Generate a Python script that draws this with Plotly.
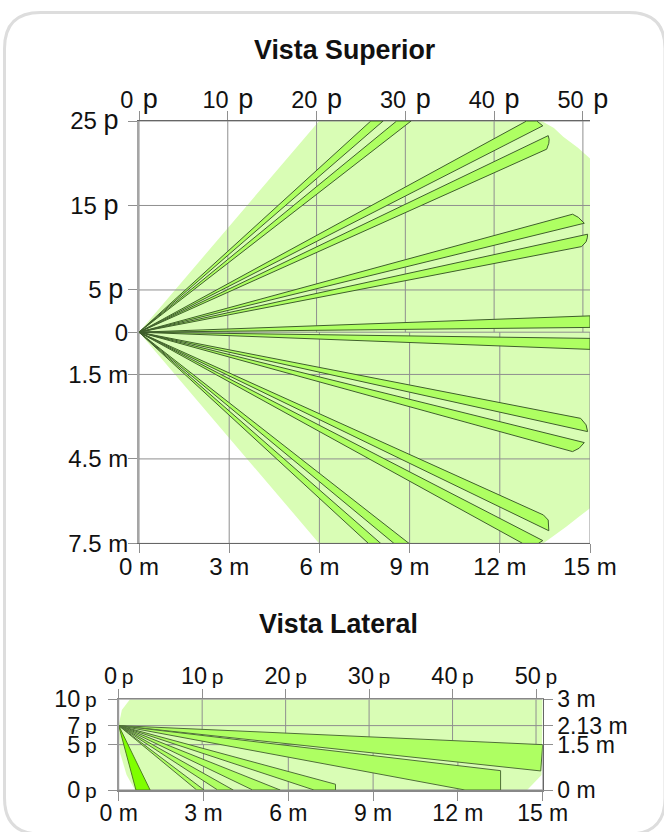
import plotly.graph_objects as go

# ---- Top view (metres; ft axis is a second scale) ----
top_ft = [0, 10, 20, 30, 40, 50]
top_m = [0, 3, 6, 9, 12, 15]
top_y_vals = [7.5, 4.5, 1.5, 0, -1.5, -4.5, -7.5]
top_y_labels = ["25", "15", "5", "0", "1.5 m", "4.5 m", "7.5 m"]
FT_RANGE_TOP = 50.8

cover_x = [0, 5.99, 13.39, 13.80, 14.11, 14.60, 15, 15, 14.62, 14.22, 13.44, 5.99, 0]
cover_y = [0, 7.5, 7.5, 7.25, 6.94, 6.55, 6.17, -6.25, -6.56, -6.90, -7.5, -7.5, 0]

beam_x = [
    [7.71, 8.12], [8.57, 9.05],
    [12.89, 13.23, 13.43], [13.61, 13.64, 13.63, 13.56],
    [14.42, 14.61, 14.81], [14.92, 14.91, 14.87, 14.72],
    [15, 15], [15, 15],
    [14.69, 14.87, 14.92], [14.81, 14.64, 14.42],
    [13.45, 13.61, 13.63], [13.43, 13.28, 12.76],
    [8.98, 8.48], [8.04, 7.63],
]
beam_y = [
    [7.5, 7.5], [7.5, 7.5],
    [7.5, 7.5, 7.33], [6.98, 6.85, 6.71, 6.50],
    [4.19, 4.08, 3.87], [3.48, 3.35, 3.21, 3.04],
    [0.58, 0.17], [-0.22, -0.61],
    [-3.06, -3.29, -3.53], [-3.92, -4.12, -4.24],
    [-6.49, -6.67, -7.05], [-7.40, -7.5, -7.5],
    [-7.5, -7.5], [-7.5, -7.5],
]

# ---- Side view ----
side_ft = [0, 10, 20, 30, 40, 50]
side_m = [0, 3, 6, 9, 12, 15]
side_y_vals = [0, 1.5, 2.13, 3]
side_left = ["0", "5", "7", "10"]
side_right = ["0 m", "1.5 m", "2.13 m", "3 m"]
FT_RANGE_SIDE = 50.8
MOUNT = 2.13

side_cover_x = [0, 0.11, 0.40, 15, 14.96, 14.45, 0.58, 0.28, 0.05, 0]
side_cover_y = [2.13, 2.65, 3, 3, 0.5, 0, 0, 0.5, 1.22, 2.13]

side_beam_x = [[15, 14.93], [13.51, 13.51, 12.25], [7.67, 7.67, 6.91],
               [5.71, 4.74], [4.05, 3.50], [3.02, 2.76]]
side_beam_y = [[1.5, 0.63], [0.64, 0, 0], [0.19, 0, 0], [0, 0], [0, 0], [0, 0]]
creep_x = [1.11, 0.61]
creep_y = [0, 0]

FONT = "Liberation Sans"
LIGHT = "#D9FDB5"
BEAM = "#AEFF62"
CREEP = "#7FFF00"
GRID = "#8f8f8f"
W, H = 664, 832

fig = go.Figure()


def gridlines(xs_upper, xs_lower, ys, split, xmax, ymin, ymax, xa, ya):
    gx, gy = [], []
    for v in xs_upper:
        gx += [v, v, None]
        gy += [split, ymax, None]
    for v in xs_lower:
        gx += [v, v, None]
        gy += [ymin, split, None]
    for v in ys:
        gx += [0, xmax, None]
        gy += [v, v, None]
    fig.add_trace(go.Scatter(x=gx, y=gy, mode="lines", xaxis=xa, yaxis=ya, showlegend=False,
                             hoverinfo="skip", line=dict(color=GRID, width=1)))


def poly(xs, ys, fill, xa, ya, line="#3f5f2c", width=1):
    fig.add_trace(go.Scatter(x=xs, y=ys, mode="lines", fill="toself", fillcolor=fill, xaxis=xa, yaxis=ya,
                             showlegend=False, hoverinfo="skip", line=dict(color=line, width=width)))


# top view
poly(cover_x, cover_y, LIGHT, "x", "y", line=LIGHT, width=0)
gridlines([v * 15 / FT_RANGE_TOP for v in top_ft], top_m, top_y_vals, 0, 15, -7.5, 7.5, "x", "y")
for bx, by in zip(beam_x, beam_y):
    poly([0] + bx + [0], [0] + by + [0], BEAM, "x", "y")
fig.add_trace(go.Scatter(x=[None], y=[None], xaxis="x2", yaxis="y", showlegend=False))

# side view
poly(side_cover_x, side_cover_y, LIGHT, "x3", "y3", line=LIGHT, width=0)
gridlines([v * 15 / FT_RANGE_SIDE for v in side_ft], side_m, side_y_vals, 1.5, 15, 0, 3, "x3", "y3")
for bx, by in zip(side_beam_x, side_beam_y):
    poly([0] + bx + [0], [MOUNT] + by + [MOUNT], BEAM, "x3", "y3", line="#4f6f38")
poly([0] + creep_x + [0], [MOUNT] + creep_y + [MOUNT], CREEP, "x3", "y3", line="#4f7f20")
fig.add_trace(go.Scatter(x=[None], y=[None], xaxis="x4", yaxis="y3", showlegend=False))
fig.add_trace(go.Scatter(x=[None], y=[None], xaxis="x3", yaxis="y4", showlegend=False))

THIN = "\u2009"


def plab(n, digit, size, sep=" ", tail=""):
    return (f'<span style="font-size:{digit}px">{n}</span>{sep}'
            f'<span style="font-size:{size}px">p</span>{tail}')


def topy(s):
    if s in ("25", "15"):
        return plab(s, 24, 27, tail=THIN + THIN)
    if s == "5":
        return plab(s, 24, 27, tail=THIN)
    return s


base_tick = dict(ticks="outside", ticklen=9, tickwidth=1, tickcolor=GRID, showgrid=False, zeroline=False,
                 tickmode="array", tickfont=dict(family=FONT, size=24, color="#111"), showline=True,
                 fixedrange=True, automargin=False)
side_font = dict(family=FONT, size=23, color="#111")

fig.update_layout(
    width=W, height=H, margin=dict(l=0, r=0, t=0, b=0, autoexpand=False), paper_bgcolor="white", plot_bgcolor="white",
    showlegend=False,
    xaxis=dict(base_tick, domain=[139 / W, 590 / W], range=[0, 15], tickvals=top_m,
               ticktext=[f"{v} m" for v in top_m], anchor="y", side="bottom", linecolor="#666", linewidth=1,
               ticklabelstandoff=-7),
    xaxis2=dict(base_tick, domain=[139 / W, 590 / W], range=[0, FT_RANGE_TOP], tickvals=top_ft,
                ticktext=[plab(v, 23.5, 27, sep=THIN + THIN) for v in top_ft], anchor="y", side="top", overlaying="x",
                linecolor="#666", linewidth=1, ticklabelstandoff=-7),
    yaxis=dict(base_tick, domain=[1 - 543.4 / H, 1 - 121 / H], range=[-7.5, 7.5], tickvals=top_y_vals,
               ticktext=[topy(s) for s in top_y_labels],
               anchor="x", linecolor="#a5a5a5", linewidth=2, ticklabelstandoff=-5),
    xaxis3=dict(base_tick, domain=[118.7 / W, 542.7 / W], range=[0, 15], tickvals=side_m,
                ticktext=[f"{v} m" for v in side_m], anchor="y3", side="bottom", linecolor="#888", linewidth=2,
                tickfont=side_font, ticklabelstandoff=-8),
    xaxis4=dict(base_tick, domain=[118.7 / W, 542.7 / W], range=[0, FT_RANGE_SIDE], tickvals=side_ft,
                ticktext=[plab(v, 23.5, 21, sep=THIN) for v in side_ft], anchor="y3", side="top", overlaying="x3",
                linecolor="#888", linewidth=1, tickfont=side_font, ticklabelstandoff=-4),
    yaxis3=dict(base_tick, domain=[1 - 790 / H, 1 - 699.3 / H], range=[0, 3], tickvals=side_y_vals,
                ticktext=[plab(s, 23.5, 21, sep=THIN, tail="\u00a0") for s in side_left], anchor="x3",
                linecolor="#999", linewidth=2, tickfont=side_font),
    yaxis4=dict(base_tick, domain=[1 - 790 / H, 1 - 699.3 / H], range=[0, 3], tickvals=side_y_vals,
                ticktext=side_right, anchor="x3", side="right",
                overlaying="y3", linecolor="#666", linewidth=1, tickfont=side_font),
    annotations=[
        dict(text="<b>Vista Superior</b>", x=345 / W, y=1 - 50 / H, xref="paper", yref="paper", showarrow=False,
             font=dict(family=FONT, size=26.8, color="#111"), xanchor="center", yanchor="middle"),
        dict(text="<b>Vista Lateral</b>", x=338.5 / W, y=1 - 624 / H, xref="paper", yref="paper", showarrow=False,
             font=dict(family=FONT, size=26.8, color="#111"), xanchor="center", yanchor="middle"),
    ],
)

# card outline
L, T, R, B, r = 4.5 / W, 1 - 12.5 / H, 665 / W, 1 - 834 / H, 36
rx, ry = r / W, r / H
path = (f"M {L + rx} {T} L {R - rx} {T} Q {R} {T} {R} {T - ry} L {R} {B + ry} Q {R} {B} {R - rx} {B} "
        f"L {L + rx} {B} Q {L} {B} {L} {B + ry} L {L} {T - ry} Q {L} {T} {L + rx} {T} Z")
fig.add_shape(type="path", path=path, xref="paper", yref="paper", line=dict(color="#dddddd", width=3), layer="below")

fig.write_html("out.html", config={"displayModeBar": False},
               post_script="document.body.style.margin='0';document.body.style.overflow='hidden';")
